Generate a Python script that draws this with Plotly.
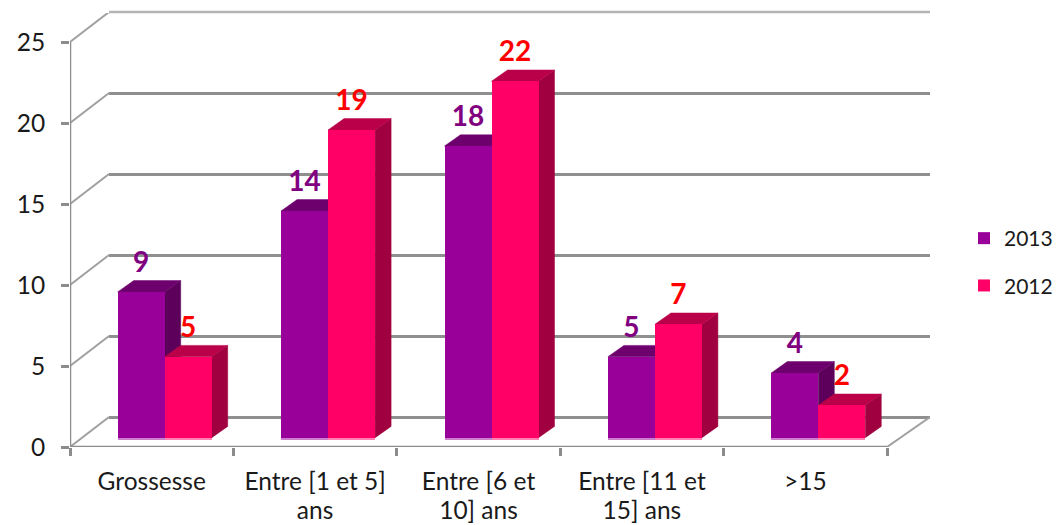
import plotly.graph_objects as go

FIG_W, FIG_H = 1061, 525

cat_line1 = ["Grossesse", "Entre [1 et 5]", "Entre [6 et", "Entre [11 et", ">15"]
cat_line2 = ["", "ans", "10] ans", "15] ans", ""]
values_2013 = [9, 14, 18, 5, 4]
values_2012 = [5, 19, 22, 7, 2]
y_ticks = [0, 5, 10, 15, 20, 25]

PURPLE = dict(front="#990099", side="#5c005c", top="#6e006e", strip="#cc80cc", label="#800080")
PINK = dict(front="#ff0066", side="#a0003f", top="#ba0049", strip="#ff80b2", label="#ff0000")
GRID = "#8f8f8f"
AXIS = "#8c8c8c"

# pixel layout of the pseudo-3D frame
X0, X1 = 70, 930          # front axes, horizontally
Y0, Y1 = 447, 13          # front axes, vertically
CAT_PX = 163.4
UNIT_PX = 16.2
WALL_DX = 39 / CAT_PX
WALL_DX_R = 43 / CAT_PX
WALL_DY = 30 / UNIT_PX
BAR_W = 47 / CAT_PX
BAR_OFF = 13 / CAT_PX
BAR_BASE = 9.3 / UNIT_PX
STRIP_H = 2.6 / UNIT_PX
DEPTH_X = 16 / CAT_PX
DEPTH_Y = 11.3 / UNIT_PX
LABEL_GAP = 27 / UNIT_PX

X_RANGE = [-0.5, 4.5 + (X1 - X0 - 5 * CAT_PX) / CAT_PX]
Y_RANGE = [0, (Y0 - Y1) / UNIT_PX]


def px_x(p):
    return p / FIG_W


def px_y(p):
    return 1 - p / FIG_H


def faces(values, lefts):
    side_x, side_y, top_x, top_y = [], [], [], []
    for v, xl in zip(values, lefts):
        xr = xl + BAR_W
        t = BAR_BASE + v
        side_x += [xr, xr + DEPTH_X, xr + DEPTH_X, xr, xr, None]
        side_y += [BAR_BASE, BAR_BASE + DEPTH_Y, t + DEPTH_Y, t, BAR_BASE, None]
        top_x += [xl, xr, xr + DEPTH_X, xl + DEPTH_X, xl, None]
        top_y += [t, t, t + DEPTH_Y, t + DEPTH_Y, t, None]
    return side_x, side_y, top_x, top_y


idx = list(range(len(cat_line1)))
left_2013 = [i + BAR_OFF - BAR_W for i in idx]
left_2012 = [i + BAR_OFF for i in idx]

fig = go.Figure()

# back wall: real gridlines live on this subplot; top line is lighter in the source
fig.add_trace(go.Scatter(x=[0, 1], y=[25, 25], mode="lines", xaxis="x", yaxis="y",
                         line=dict(color="#b4b4b4", width=2.5), showlegend=False,
                         hoverinfo="skip", cliponaxis=False))

# front frame
diag_x, diag_y = [], []
for t in y_ticks:
    diag_x += [-0.5, -0.5 + WALL_DX, None]
    diag_y += [t, t + WALL_DY, None]
diag_x += [4.5, 4.5 + WALL_DX_R, None]
diag_y += [0, WALL_DY, None]
fig.add_trace(go.Scatter(x=diag_x, y=diag_y, mode="lines", xaxis="x2", yaxis="y2",
                         line=dict(color="#a0a0a0", width=2), showlegend=False,
                         hoverinfo="skip", cliponaxis=False))
fig.add_trace(go.Scatter(x=[-0.5, -0.5, None, -0.5, 4.5], y=[0, 25, None, 0, 0], mode="lines",
                         xaxis="x2", yaxis="y2", line=dict(color=AXIS, width=2.5),
                         showlegend=False, hoverinfo="skip", cliponaxis=False))

# side and top faces
for vals, lefts, col in [(values_2013, left_2013, PURPLE), (values_2012, left_2012, PINK)]:
    sx, sy, tx, ty = faces(vals, lefts)
    for fx, fy, c in [(sx, sy, col["side"]), (tx, ty, col["top"])]:
        fig.add_trace(go.Scatter(x=fx, y=fy, mode="lines", fill="toself", fillcolor=c,
                                 line=dict(color=c, width=0.5), xaxis="x2", yaxis="y2",
                                 showlegend=False, hoverinfo="skip"))

# front faces and the pale strip under them
for name, vals, lefts, col in [("2013", values_2013, left_2013, PURPLE),
                               ("2012", values_2012, left_2012, PINK)]:
    centers = [x + BAR_W / 2 for x in lefts]
    fig.add_trace(go.Bar(x=centers, y=vals, base=[BAR_BASE] * len(vals), width=BAR_W, name=name,
                         marker=dict(color=col["front"], line=dict(width=0)),
                         xaxis="x3", yaxis="y3", legendgroup=name))
    fig.add_trace(go.Bar(x=centers, y=[STRIP_H] * len(vals), base=[BAR_BASE - STRIP_H] * len(vals),
                         width=BAR_W, marker=dict(color=col["strip"], line=dict(width=0)),
                         xaxis="x3", yaxis="y3", showlegend=False, hoverinfo="skip"))

# data labels
for vals, lefts, col in [(values_2013, left_2013, PURPLE), (values_2012, left_2012, PINK)]:
    fig.add_trace(go.Scatter(x=[x + BAR_W / 2 for x in lefts],
                             y=[BAR_BASE + v + LABEL_GAP for v in vals],
                             text=[str(v) for v in vals], mode="text", textposition="middle center",
                             textfont=dict(family="Lato", size=28, color=col["label"], weight="bold"),
                             xaxis="x3", yaxis="y3", showlegend=False, hoverinfo="skip",
                             cliponaxis=False))

TICK_FONT = dict(family="Lato", size=24.5, color="#1a1a1a")
bounds = [i - 0.5 for i in range(6)]
hidden = dict(showticklabels=False, ticks="", showgrid=False, zeroline=False, showline=False)

fig.update_layout(
    width=FIG_W, height=FIG_H, autosize=False,
    margin=dict(l=0, r=0, t=0, b=0, autoexpand=False),
    paper_bgcolor="white", plot_bgcolor="rgba(0,0,0,0)",
    barmode="overlay", bargap=0,
    legend=dict(x=px_x(964), y=px_y(218), xanchor="left", yanchor="top",
                font=dict(family="Lato", size=21, color="#1a1a1a"),
                tracegroupgap=17, bgcolor="rgba(0,0,0,0)", itemclick=False),
    # back wall
    xaxis=dict(domain=[px_x(X0 + 39), px_x(X1)], range=[0, 1], anchor="y", **hidden),
    yaxis=dict(domain=[px_y(417 + 4.86), px_y(12 - 4.86)], range=[-0.3, 25.3], anchor="x",
               tickvals=[0, 5, 10, 15, 20], showticklabels=False, ticks="",
               showgrid=True, gridcolor=GRID, gridwidth=2.5, zeroline=False, showline=False),
    # front frame
    xaxis2=dict(domain=[px_x(X0), px_x(X1)], range=X_RANGE, anchor="y2",
                tickvals=idx, ticktext=cat_line1, ticks="", tickfont=TICK_FONT,
                ticklabelstandoff=17, showgrid=False, zeroline=False, showline=False,
                minor=dict(tickvals=bounds, ticks="outside", ticklen=8, tickwidth=2.5,
                           tickcolor=AXIS, showgrid=False)),
    yaxis2=dict(domain=[px_y(Y0), px_y(Y1)], range=Y_RANGE, anchor="x2",
                tickvals=y_ticks, ticks="outside", ticklen=8, tickwidth=2.5, tickcolor=AXIS,
                tickfont=dict(family="Lato", size=24.5, color="#1a1a1a"),
                ticklabelstandoff=11, showgrid=False, zeroline=False, showline=False),
    # overlay holding the front faces
    xaxis3=dict(domain=[px_x(X0), px_x(X1)], range=X_RANGE, anchor="y3", overlaying="x2",
                tickvals=idx, ticktext=cat_line2, ticks="", tickfont=TICK_FONT,
                ticklabelstandoff=46, showgrid=False, zeroline=False, showline=False),
    yaxis3=dict(domain=[px_y(Y0), px_y(Y1)], range=Y_RANGE, anchor="x3", overlaying="y2",
                **hidden),
)

fig.write_html("out.html", config=dict(displayModeBar=False),
               post_script="document.body.style.margin='0';document.body.style.overflow='hidden';")
